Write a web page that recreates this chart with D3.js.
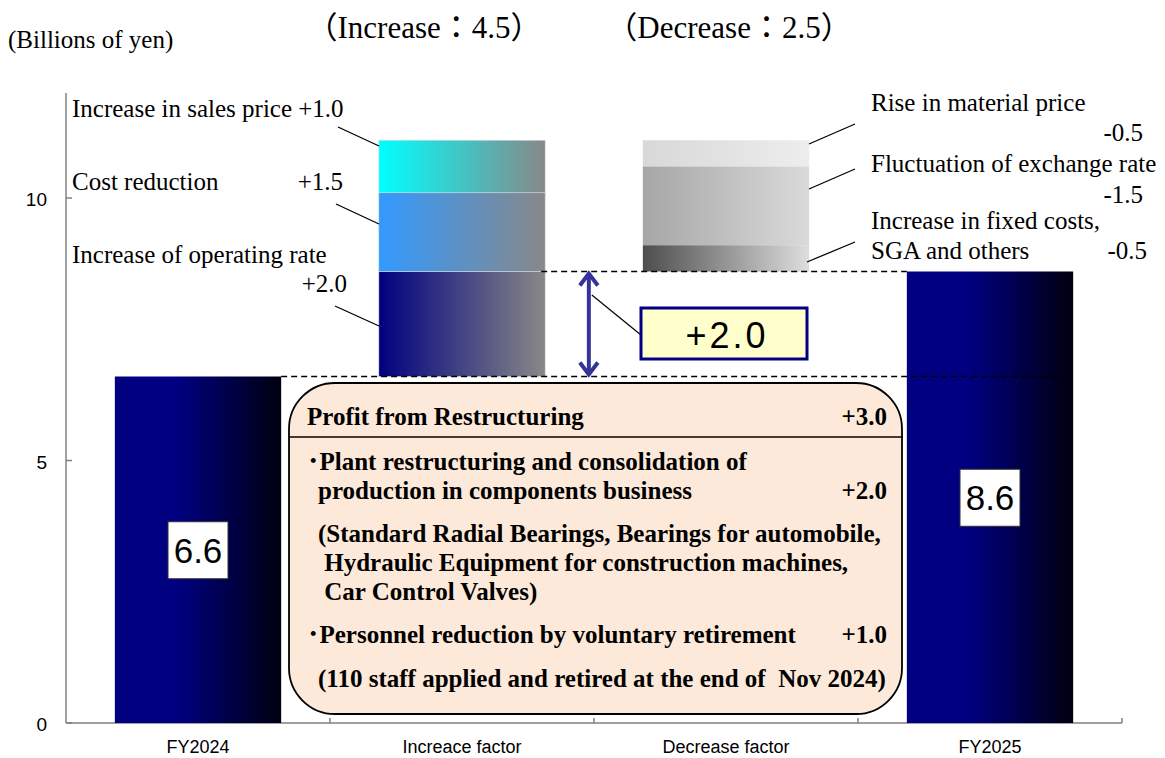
<!DOCTYPE html>
<html>
<head>
<meta charset="utf-8">
<script src="https://cdn.jsdelivr.net/npm/d3@7"></script>
<style>
  body { margin: 0; background: #fff; }
  text { white-space: pre; }
  .serif { font-family: "Liberation Serif", "Noto Sans CJK JP", serif; }
  .gothic { font-family: "Liberation Sans", "Noto Sans CJK JP", sans-serif; }
</style>
</head>
<body>
<div id="chart-area"></div>
<script>
// categories on the x axis
const categories = ["FY2024", "Increace factor", "Decrease factor", "FY2025"];
// operating income, billions of yen
const totals = [6.6, 8.6];
const yTicks = [0, 5, 10];

// increase factors, stacked from the bottom up
const incLabels = ["Increase of operating rate", "Cost reduction", "Increase in sales price"];
const incValues = [2.0, 1.5, 1.0];
const incColors = ["#000080", "#3399ff", "#00ffff"];

// decrease factors, stacked from the top down
const decLabels = ["Rise in material price", "Fluctuation of exchange rate", "Increase in fixed costs,", "SGA and others"];
const decValues = [-0.5, -1.5, -0.5];
const decColors = [["#d8d8d8", "#ededed"], ["#a6a6a6", "#dadada"], ["#4d4d4d", "#dedede"]];

const headerTexts = ["（Increase：4.5）", "（Decrease：2.5）"];
const restructTitle = ["Profit from Restructuring", "+3.0"];

const width = 1165, height = 758;
const margin = {top: 93, left: 66, right: 43, bottom: 35};

const svg = d3.select("#chart-area").append("svg")
    .attr("width", width)
    .attr("height", height);

const x = d3.scaleBand()
    .domain(categories)
    .range([margin.left, width - margin.right])
    .paddingInner(0.37)
    .paddingOuter(0.185);

const y = d3.scaleLinear()
    .domain([0, 12])
    .range([height - margin.bottom, margin.top]);

const bw = x.bandwidth();
const step = x.step();

// gradients
const defs = svg.append("defs");
function grad(id, stops) {
    const g = defs.append("linearGradient").attr("id", id)
        .attr("x1", "0%").attr("x2", "100%").attr("y1", "0%").attr("y2", "0%");
    stops.forEach(s => g.append("stop").attr("offset", s[0]).attr("stop-color", s[1]));
}
grad("gFY", [["0%", "#000080"], ["38%", "#000080"], ["100%", "#000010"]]);
incColors.forEach((c, i) => grad("gInc" + i, [["0%", c], ["100%", "#888888"]]));
decColors.forEach((c, i) => grad("gDec" + i, [["0%", c[0]], ["100%", c[1]]]));

// axes
const axisCol = "#808080";
svg.append("line")
    .attr("x1", margin.left).attr("x2", margin.left)
    .attr("y1", y(12)).attr("y2", y(0))
    .attr("stroke", axisCol).attr("stroke-width", 1.5);
svg.append("line")
    .attr("x1", margin.left).attr("x2", width - margin.right)
    .attr("y1", y(0)).attr("y2", y(0))
    .attr("stroke", axisCol).attr("stroke-width", 1.5);

svg.selectAll(".ytick").data(yTicks).enter().append("line")
    .attr("x1", margin.left).attr("x2", margin.left + 6)
    .attr("y1", d => y(d)).attr("y2", d => y(d))
    .attr("stroke", axisCol).attr("stroke-width", 1.5);
svg.selectAll(".ylab").data(yTicks).enter().append("text")
    .attr("class", "gothic")
    .attr("x", margin.left - 19).attr("y", d => y(d) + 8)
    .attr("text-anchor", "end")
    .attr("font-size", 19)
    .text(d => d);

// band boundaries ticks on x axis
const boundaries = categories.map(c => x(c) - step * 0.185).concat([width - margin.right]);
svg.selectAll(".xtick").data(boundaries.slice(1)).enter().append("line")
    .attr("x1", d => d).attr("x2", d => d)
    .attr("y1", y(0)).attr("y2", y(0) - 5)
    .attr("stroke", axisCol).attr("stroke-width", 1.5);
svg.selectAll(".xlab").data(categories).enter().append("text")
    .attr("class", "gothic")
    .attr("x", d => x(d) + bw / 2).attr("y", y(0) + 30)
    .attr("text-anchor", "middle")
    .attr("font-size", 18)
    .text(d => d);

// total bars
const totalCats = [categories[0], categories[3]];
svg.selectAll(".total").data(totals).enter().append("rect")
    .attr("x", (d, i) => x(totalCats[i]))
    .attr("y", d => y(d))
    .attr("width", bw)
    .attr("height", d => y(0) - y(d))
    .attr("fill", "url(#gFY)");

// stacked increase
let base = totals[0];
const incStack = incValues.map(v => { const s = {lo: base, hi: base + v}; base += v; return s; });
svg.selectAll(".inc").data(incStack).enter().append("rect")
    .attr("x", x(categories[1]))
    .attr("y", d => y(d.hi))
    .attr("width", bw)
    .attr("height", d => y(d.lo) - y(d.hi))
    .attr("fill", (d, i) => "url(#gInc" + i + ")")
    .attr("stroke", "#d0d8e0").attr("stroke-width", 0.6);

// stacked decrease from the top of the increase
let decTop = base;
const decStack = decValues.map(v => { const s = {hi: decTop, lo: decTop + v}; decTop += v; return s; });
svg.selectAll(".dec").data(decStack).enter().append("rect")
    .attr("x", x(categories[2]))
    .attr("y", d => y(d.hi))
    .attr("width", bw)
    .attr("height", d => y(d.lo) - y(d.hi))
    .attr("fill", (d, i) => "url(#gDec" + i + ")");

// dashed reference lines
svg.append("line")
    .attr("x1", x(categories[0]) + bw).attr("x2", x(categories[3]) + bw * 0.93)
    .attr("y1", y(totals[0])).attr("y2", y(totals[0]))
    .attr("stroke", "#000").attr("stroke-width", 1.5).attr("stroke-dasharray", "6,4");
svg.append("line")
    .attr("x1", x(categories[1]) + bw - 4).attr("x2", x(categories[3]))
    .attr("y1", y(totals[1])).attr("y2", y(totals[1]))
    .attr("stroke", "#000").attr("stroke-width", 1.5).attr("stroke-dasharray", "6,4");

// double arrow
const ax = x(categories[2]) - 54;
const aCol = "#333399";
svg.append("line")
    .attr("x1", ax).attr("x2", ax)
    .attr("y1", y(totals[1]) + 2).attr("y2", y(totals[0]) - 2)
    .attr("stroke", aCol).attr("stroke-width", 4);
[[y(totals[1]) + 2, 1], [y(totals[0]) - 2, -1]].forEach(([py, dir]) => {
    svg.append("path")
        .attr("d", `M${ax - 9},${py + dir * 12} L${ax},${py} L${ax + 9},${py + dir * 12}`)
        .attr("fill", "none").attr("stroke", aCol).attr("stroke-width", 4)
        .attr("stroke-linejoin", "miter");
});

// +2.0 label box
const diff = totals[1] - totals[0];
svg.append("line")
    .attr("x1", ax + 3).attr("y1", 295).attr("x2", 641).attr("y2", 335)
    .attr("stroke", "#000").attr("stroke-width", 1.2);
svg.append("rect")
    .attr("x", 641).attr("y", 308).attr("width", 166).attr("height", 51)
    .attr("fill", "#ffffcc").attr("stroke", "#000080").attr("stroke-width", 3);
svg.append("text")
    .attr("class", "gothic")
    .attr("x", 727).attr("y", 348)
    .attr("text-anchor", "middle")
    .attr("font-size", 36)
    .attr("letter-spacing", 3)
    .text("+" + diff.toFixed(1));

// total value labels
totals.forEach((v, i) => {
    const cx = x(totalCats[i]) + bw / 2;
    const cy = y(v / 2);
    svg.append("rect")
        .attr("x", cx - 30).attr("y", cy - 28).attr("width", 60).attr("height", 57)
        .attr("fill", "#fff").attr("stroke", "#333").attr("stroke-width", 1);
    svg.append("text")
        .attr("class", "gothic")
        .attr("x", cx).attr("y", cy + 13)
        .attr("text-anchor", "middle")
        .attr("font-size", 35)
        .text(v.toFixed(1));
});

// header texts
svg.append("text").attr("class", "serif")
    .attr("x", 8).attr("y", 48).attr("font-size", 25)
    .text("(Billions of yen)");
const headerCx = [x(categories[1]) + bw / 2 - 38, x(categories[2]) + bw / 2 + 3];
headerTexts.forEach((t, i) => {
    svg.append("text").attr("class", "serif")
        .attr("x", headerCx[i]).attr("y", 38)
        .attr("text-anchor", "middle")
        .attr("font-size", 31)
        .text(t);
});

// increase labels
const fmt = v => (v > 0 ? "+" : "-") + Math.abs(v).toFixed(1);
const incLabelPos = [
    {lines: [[72, 263, incLabels[0]], [347, 292, fmt(incValues[0]), "end"]], lead: [335, 306, 379, 326]},
    {lines: [[72, 190, incLabels[1]], [343, 190, fmt(incValues[1]), "end"]], lead: [336, 204, 379, 224]},
    {lines: [[72, 117, incLabels[2] + " " + fmt(incValues[2])]], lead: [338, 127, 379, 146]}
];
incLabelPos.forEach(p => {
    p.lines.forEach(l => svg.append("text").attr("class", "serif")
        .attr("x", l[0]).attr("y", l[1]).attr("font-size", 25)
        .attr("text-anchor", l[3] || "start").text(l[2]));
    svg.append("line").attr("x1", p.lead[0]).attr("y1", p.lead[1])
        .attr("x2", p.lead[2]).attr("y2", p.lead[3])
        .attr("stroke", "#000").attr("stroke-width", 1.3);
});

// decrease labels
const decLabelPos = [
    {lines: [[871, 111, decLabels[0]], [1143, 141, fmt(decValues[0]), "end"]], lead: [809, 144, 855, 124]},
    {lines: [[871, 172, decLabels[1]], [1143, 203, fmt(decValues[1]), "end"]], lead: [809, 189, 855, 169]},
    {lines: [[871, 229, decLabels[2]], [871, 259, decLabels[3]], [1147, 259, fmt(decValues[2]), "end"]], lead: [807, 262, 855, 242]}
];
decLabelPos.forEach(p => {
    p.lines.forEach(l => svg.append("text").attr("class", "serif")
        .attr("x", l[0]).attr("y", l[1]).attr("font-size", 25)
        .attr("text-anchor", l[3] || "start").text(l[2]));
    svg.append("line").attr("x1", p.lead[0]).attr("y1", p.lead[1])
        .attr("x2", p.lead[2]).attr("y2", p.lead[3])
        .attr("stroke", "#000").attr("stroke-width", 1.3);
});

// restructuring box
const box = {x: 289, y: 383, w: 613, h: 331, r: 46};
svg.append("rect")
    .attr("x", box.x).attr("y", box.y).attr("width", box.w).attr("height", box.h)
    .attr("rx", box.r).attr("ry", box.r)
    .attr("fill", "#fde9d9").attr("stroke", "#000").attr("stroke-width", 1.8);
svg.append("line")
    .attr("x1", box.x).attr("x2", box.x + box.w + 1)
    .attr("y1", 437).attr("y2", 437)
    .attr("stroke", "#000").attr("stroke-width", 1.5);

const boxLines = [
    [307, 425, restructTitle[0]],
    [307, 470, "･Plant restructuring and consolidation of"],
    [318, 499, "production in components business"],
    [318, 542, "(Standard Radial Bearings, Bearings for automobile,"],
    [318, 571, " Hydraulic Equipment for construction machines,"],
    [318, 600, " Car Control Valves)"],
    [307, 643, "･Personnel reduction by voluntary retirement"],
    [318, 687, "(110 staff applied and retired at the end of  Nov 2024)"]
];
const boxValues = [[425, restructTitle[1]], [499, "+2.0"], [643, "+1.0"]];
boxLines.forEach(l => svg.append("text").attr("class", "serif")
    .attr("x", l[0]).attr("y", l[1]).attr("font-size", 25).attr("font-weight", "bold")
    .text(l[2]));
boxValues.forEach(l => svg.append("text").attr("class", "serif")
    .attr("x", 887).attr("y", l[0]).attr("font-size", 25).attr("font-weight", "bold")
    .attr("text-anchor", "end").text(l[1]));
</script>
</body>
</html>
